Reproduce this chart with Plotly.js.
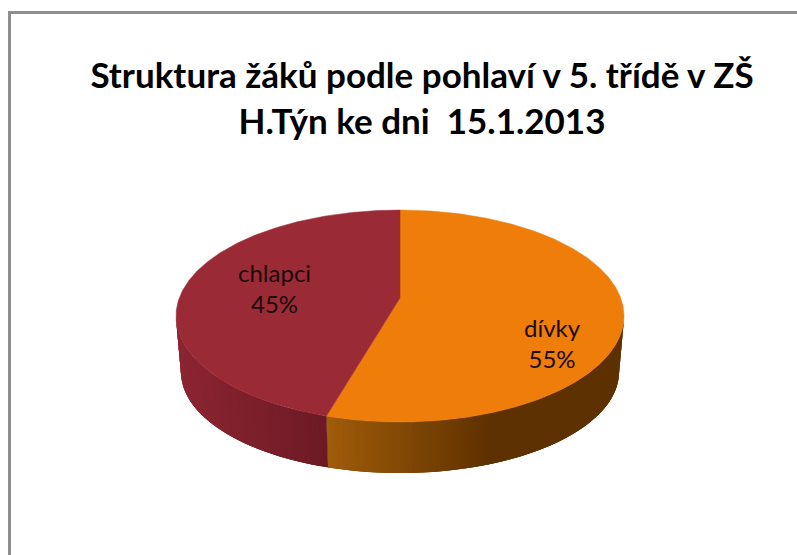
<!DOCTYPE html>
<html><head><meta charset="utf-8">
<script src="https://cdn.plot.ly/plotly-3.0.1.min.js"></script>
<style>html,body{margin:0;padding:0;background:#fff}#c{width:797px;height:555px}</style>
</head><body><div id="c"></div>
<script>
const categories = ['dívky', 'chlapci'];
const shares = [55, 45];
const titleLines = ['Struktura žáků podle pohlaví v 5. třídě v ZŠ', 'H.Týn ke dni  15.1.2013'];
const faceColors = ['#EE7D0A', '#9B2A37'];

// Projection of the tilted pie into the plot's coordinate frame
const top_ = {cx: 400, cy: 316, rx: 224, ry: 106};
const bot_ = {cx: 400, cy: 372, rx: 219, ry: 101};
const apex = [400, 298];
const labelAt = [[552, 343], [274, 288]];

const rad = d => d * Math.PI / 180;
// the small angle shift stands in for perspective (front edge spreads outward)
const warp = a => a + 2 * Math.sin(rad(2 * a));
const pt = (e, a) => { const w = warp(a); return [e.cx + e.rx * Math.sin(rad(w)), e.cy - e.ry * Math.cos(rad(w))]; };
const mix = (p, q, t) => {
  t = Math.max(0, Math.min(1, t));
  return 'rgb(' + p.map((v, i) => Math.round(v + (q[i] - v) * t)).join(',') + ')';
};
function rimColor(i, x) {
  if (i === 1) return mix([140, 37, 50], [108, 26, 37], (x - 178) / 149);
  return mix([160, 92, 10], [94, 49, 0], (x - 327) / 165);
}

const traces = [];
const total = shares.reduce((a, b) => a + b, 0);
let start = 0;
const spans = shares.map(v => { const s = [start, start + v / total * 360]; start = s[1]; return s; });

// side wall, visible from 90° to 270°: each band runs on to the wall's end of
// its slice and the next band paints over it, so no seams show between bands
spans.forEach((sp, i) => {
  const a0 = Math.max(sp[0], 90), a1 = Math.min(sp[1], 270);
  const step = 1;
  for (let a = a0; a < a1; a += step) {
    const b = Math.min(a + step * 3, a1);
    const tops = [], bots = [];
    for (let t = a; t < b; t += 0.5) { tops.push(pt(top_, t)); bots.push(pt(bot_, t)); }
    tops.push(pt(top_, b)); bots.push(pt(bot_, b));
    const P = tops.concat(bots.reverse());
    P.push(P[0]);
    const col = rimColor(i, (pt(top_, a)[0] + pt(top_, Math.min(a + step, a1))[0]) / 2);
    traces.push({type: 'scatter', mode: 'lines', x: P.map(p => p[0]), y: P.map(p => p[1]),
      fill: 'toself', fillcolor: col, line: {width: 0},
      hoverinfo: 'skip', showlegend: false});
  }
});

// top faces
spans.forEach((sp, i) => {
  const P = [apex];
  const n = Math.ceil(sp[1] - sp[0]);
  for (let k = 0; k <= n * 2; k++) P.push(pt(top_, sp[0] + (sp[1] - sp[0]) * k / (n * 2)));
  P.push(apex);
  traces.push({type: 'scatter', mode: 'lines', x: P.map(p => p[0]), y: P.map(p => p[1]),
    fill: 'toself', fillcolor: faceColors[i], line: {color: faceColors[i], width: 0.5},
    name: categories[i], text: categories[i] + ' ' + shares[i] + '%', hoverinfo: 'text', showlegend: false});
});

const layout = {
  width: 797, height: 555,
  margin: {l: 0, r: 0, t: 0, b: 0},
  paper_bgcolor: '#fff', plot_bgcolor: '#fff',
  showlegend: false,
  xaxis: {range: [0, 797], visible: false, fixedrange: true},
  yaxis: {range: [555, 0], visible: false, fixedrange: true},
  title: {text: titleLines.join('<br>'), x: 0.5295, xanchor: 'center', y: 0.8414, yanchor: 'middle',
    font: {family: 'Lato, Carlito, sans-serif', size: 35, color: '#000', weight: 700}},
  shapes: [
    {type: 'line', xref: 'x', yref: 'y', x0: 9.5, x1: 9.5, y0: 12, y1: 555, line: {color: '#8e8e8e', width: 3}},
    {type: 'line', xref: 'x', yref: 'y', x0: 8, x1: 797, y0: 12.5, y1: 12.5, line: {color: '#8e8e8e', width: 3}}
  ],
  annotations: categories.map((c, i) => ({
    x: labelAt[i][0], y: labelAt[i][1], xref: 'x', yref: 'y', showarrow: false,
    text: c + '<br>' + shares[i] + '%', align: 'center',
    font: {family: 'Lato, Carlito, sans-serif', size: 24, color: '#1a0a0a'}
  }))
};
Plotly.newPlot('c', traces, layout, {displayModeBar: false, staticPlot: true});
</script></body></html>
